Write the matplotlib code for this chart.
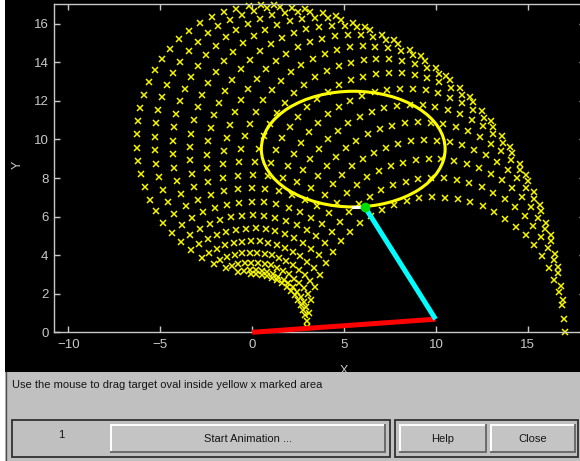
import numpy as np
import matplotlib
matplotlib.use("Agg")
import matplotlib.pyplot as plt
from matplotlib.patches import Ellipse, Rectangle
from matplotlib.lines import Line2D

plt.rcParams['font.family'] = ['Liberation Sans', 'DejaVu Sans']

# ---------------- data ----------------
link1 = 10.0
link2 = 7.0
theta1 = [0.0, 0.1, 0.2, 0.3, 0.4, 0.5, 0.6, 0.7, 0.8, 0.9, 1.0, 1.1, 1.2, 1.3, 1.4, 1.5]
theta2 = [0.0, 0.1, 0.2, 0.3, 0.4, 0.5, 0.6, 0.7, 0.8, 0.9, 1.0, 1.1, 1.2, 1.3, 1.4, 1.5,
          1.6, 1.7, 1.8, 1.9, 2.0, 2.1, 2.2, 2.3, 2.4, 2.5, 2.6, 2.7, 2.8, 2.9, 3.0, 3.1]
arm_x = [0.0, 9.98, 6.12]
arm_y = [0.0, 0.68, 6.52]
target_center = (5.5, 9.5)
target_width = 10.0
target_height = 6.0
trace_x = [5.49, 5.96]
trace_y = [6.52, 6.52]
xticks = [-10, -5, 0, 5, 10, 15]
yticks = [0, 2, 4, 6, 8, 10, 12, 14, 16]
xlabel = "X"
ylabel = "Y"
instruction = "Use the mouse to drag target oval inside yellow x marked area"
counter_label = "1"
button_labels = ["Start Animation ...", "Help", "Close"]

# workspace of the two-link arm (forward kinematics of the angle grid)
T1, T2 = np.meshgrid(np.array(theta1), np.array(theta2))
WX = link1 * np.cos(T1) + link2 * np.cos(T1 + T2)
WY = link1 * np.sin(T1) + link2 * np.sin(T1 + T2)

# ---------------- figure ----------------
W, H = 580, 461
fig = plt.figure(figsize=(W / 100, H / 100), dpi=100, facecolor='black')

ax_left, ax_right, ax_top, ax_bottom = 54.0, 585.0, 4.5, 332.3
ax = fig.add_axes([ax_left / W, (H - ax_bottom) / H, (ax_right - ax_left) / W,
                   (ax_bottom - ax_top) / H])
ax.set_facecolor('black')
ax.set_xlim(-10.78, 18.11)
ax.set_ylim(0, 17)

ax.plot(WX.ravel(), WY.ravel(), linestyle='none', marker='x', color='#f5f500',
        markersize=4.6, markeredgewidth=1.1, clip_on=False, zorder=2)
ax.add_patch(Ellipse(target_center, target_width, target_height, fill=False,
                     edgecolor='#ffff00', linewidth=2.2, zorder=3))
ax.plot(arm_x[0:2], arm_y[0:2], color='#ff0000', linewidth=3.6,
        solid_capstyle='butt', zorder=4, clip_on=False)
ax.plot(arm_x[1:3], arm_y[1:3], color='#00ffff', linewidth=3.6,
        solid_capstyle='butt', zorder=5)
ax.plot(trace_x, trace_y, color='white', linewidth=2.2, zorder=6)
ax.plot(arm_x[2:3], arm_y[2:3], marker='o', color='#00dd00', markersize=6,
        linestyle='none', zorder=7)

spine_col = '#c8c8c8'
for s in ['left', 'bottom', 'top', 'right']:
    ax.spines[s].set_color(spine_col)
    ax.spines[s].set_linewidth(1.0)
ax.set_xticks(xticks)
ax.set_yticks(yticks)
ax.tick_params(axis='both', direction='in', length=4, width=1.0, colors=spine_col,
               labelsize=9.5, top=True, right=True)
ax.tick_params(axis='x', pad=5)
ax.tick_params(axis='y', pad=4)

# ---------------- overlay (labels + control panel) ----------------
ov = fig.add_axes([0, 0, 1, 1], zorder=5)
ov.set_xlim(0, W)
ov.set_ylim(H, 0)
ov.axis('off')

ov.text(18, 165, ylabel, rotation=90, ha='center', va='center', fontsize=9,
        color=spine_col, zorder=1)
ov.text(344, 370.5, xlabel, ha='center', va='center', fontsize=9,
        color=spine_col, zorder=1)

ov.add_patch(Rectangle((0, 0), 5, H, facecolor='white', edgecolor='none', zorder=2))
ov.add_patch(Rectangle((5, 372), W - 5, H - 372, facecolor='#c0c0c0',
                       edgecolor='none', zorder=2))
ov.add_line(Line2D([5.5, 5.5], [372, H], color='#505050', linewidth=1.0, zorder=3))

ov.text(12, 385, instruction, ha='left', va='center', fontsize=8,
        color='#151515', zorder=4)

# frames
for (x0, x1) in [(11.5, 390), (395, 578)]:
    ov.add_patch(Rectangle((x0, 420), x1 - x0, 456.5 - 420, fill=False,
                           edgecolor='#303030', linewidth=1.3, zorder=3))

def button(x0, x1, y0, y1, label):
    ov.add_patch(Rectangle((x0, y0), x1 - x0, y1 - y0, facecolor='#c4c4c4',
                           edgecolor='none', zorder=3))
    ov.add_line(Line2D([x0, x1], [y0, y0], color='white', linewidth=1.4, zorder=4))
    ov.add_line(Line2D([x0, x0], [y0, y1], color='white', linewidth=1.4, zorder=4))
    ov.add_line(Line2D([x0, x1], [y1, y1], color='#6a6a6a', linewidth=1.4, zorder=4))
    ov.add_line(Line2D([x1, x1], [y0, y1], color='#6a6a6a', linewidth=1.4, zorder=4))
    ov.text((x0 + x1) / 2, (y0 + y1) / 2 + 0.5, label, ha='center', va='center',
            fontsize=8, color='#151515', zorder=5)

ov.text(61.7, 435, counter_label, ha='center', va='center', fontsize=8,
        color='#151515', zorder=4)
button(110.7, 385, 425, 452, button_labels[0])
button(400, 486, 425, 452, button_labels[1])
button(490.7, 575, 425, 452, button_labels[2])

fig.savefig('out.png', dpi=100, facecolor='black')
